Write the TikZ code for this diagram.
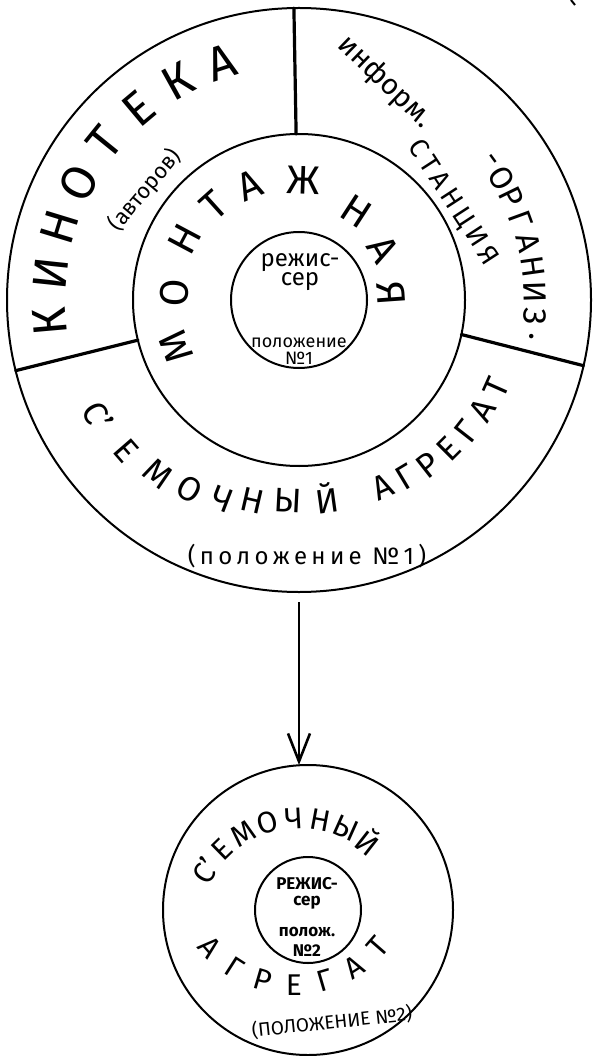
\documentclass[tikz,border=0pt]{standalone}
\usepackage{fontspec}
\setmainfont{Fira Sans}
\usetikzlibrary{arrows.meta, calc, positioning}
\tikzset{
  ring/.style={circle, draw, line width=2pt, inner sep=0pt, outer sep=0pt},
  wall/.style={line width=3.2pt, line cap=round},
  link/.style={-{Straight Barb[length=28pt,width=22pt]}, line width=2.6pt},
  glyph/.style={inner sep=0pt, font=\fontsize{#1}{#1}\selectfont},
  spaced/.style={inner sep=0pt, font={\fontsize{#1}{#1}\selectfont\addfontfeature{LetterSpace=18}}},
  note/.style={inner sep=0pt, align=center, font=\fontsize{#1}{#1}\selectfont},
}

\begin{document}
\begin{tikzpicture}[x=1pt, y=1pt]
  \useasboundingbox (0,0) rectangle (592,-1056);

  % position 1
  \node[ring, minimum size=584] (outer) at (299,-300) {};
  \node[ring, minimum size=332] (mont) at (outer.center) {};
  \node[ring, minimum size=136] (rezh) at (outer.center) {};

  \draw[wall] (mont.91) -- (outer.91);
  \draw[wall] (mont.194) -- (outer.194);
  \draw[wall] (mont.348) -- (outer.347);

  \foreach \l [count=\i from 0] in {К,И,Н,О,Т,Е,К,А} {
    \pgfmathsetmacro{\a}{185-11*\i}
    \pgfmathsetmacro{\t}{\a-90}
    \node[glyph=48, rotate=\t] (kino-\i) at ($(outer.center)+(\a:250)$) {\l};
  }
  \node[glyph=22, rotate=50] (avt) at (145,-190) {(авторов)};

  \node[glyph=29, rotate=-44] (info-a) at (385,-82) {информ.};
  \foreach \a/\l [count=\i] in {36/-,31/О,26/Р,20/Г,14/А,8/Н,2/И,-4/З,-9/.} {
    \pgfmathsetmacro{\t}{\a-90}
    \node[glyph=32, rotate=\t] (info-\i) at ($(outer.center)+(\a:236)$) {\l};
  }
  \node[spaced=27, rotate=-57] (stan) at (453,-203) {СТАНЦИЯ};

  \foreach \a/\r/\l [count=\i] in {201/132/М,177/125/О,152/130/Н,132/127/Т,113/125/А,
                                   88/120/Ж,57/106/Н,31/98/А,4/92/Я} {
    \pgfmathsetmacro{\t}{\a-90}
    \node[glyph=40, rotate=\t] (mont-\i) at ($(outer.center)+(\a:\r)$) {\l};
  }

  \node[note=24, font=\fontsize{24}{19}\selectfont] (rz-a) at (300,-272) {режис-\\сер};
  \node[note=18, font=\fontsize{18}{17}\selectfont] (rz-b) at (299,-351) {положение\\№1};

  \foreach \a/\r/\l [count=\i] in {210/232/С',221/229/Е,231/224/М,240/219/О,249/214/Ч,
                                   257/206/Н,267/201/Ы,278/200/Й,
                                   294/205/А,301/207/Г,308/209/Р,315/211/Е,322/213/Г,
                                   329/214/А,336/216/Т} {
    \pgfmathsetmacro{\t}{\a+90}
    \node[glyph=34, rotate=\t] (sem-\i) at ($(outer.center)+(\a:\r)$) {\l};
  }
  \node[spaced=24] (pos-a) at (307,-556) {(положение №1)};

  % position 2
  \node[ring, minimum size=290] (agg) at (308,-910) {};
  \node[ring, minimum size=106] (rezh2) at (agg.center) {};
  \draw[link, shorten <=10pt] (outer.south) -- (outer.south |- agg.north);

  \coordinate (agg-up) at ($(agg.center)+(-8,-20)$);
  \coordinate (agg-dn) at ($(agg.center)+(-14,36)$);
  \foreach \l [count=\i from 0] in {С',Е,М,О,Ч,Н,Ы,Й} {
    \pgfmathsetmacro{\a}{148-13.7*\i}
    \pgfmathsetmacro{\t}{\a-90}
    \node[glyph=30, rotate=\t] (sem2-\i) at ($(agg-up)+(\a:112)$) {\l};
  }
  \foreach \l [count=\i from 0] in {А,Г,Р,Е,Г,А,Т} {
    \pgfmathsetmacro{\a}{221+16.33*\i}
    \pgfmathsetmacro{\t}{\a+90}
    \node[glyph=30, rotate=\t] (agr2-\i) at ($(agg-dn)+(\a:111)$) {\l};
  }

  \node[note=17, font=\fontsize{17}{16}\selectfont\bfseries] (rz2-a) at (307,-893) {РЕЖИС-\\сер};
  \node[note=17, font=\fontsize{17}{20}\selectfont\bfseries] (rz2-b) at (307,-942) {полож.\\№2};
  \node[glyph=19, rotate=6] (pos-b) at (332,-1022) {(ПОЛОЖЕНИЕ №2)};

  \draw[line width=2pt] (571,0) -- (575,-5);
\end{tikzpicture}
\end{document}
